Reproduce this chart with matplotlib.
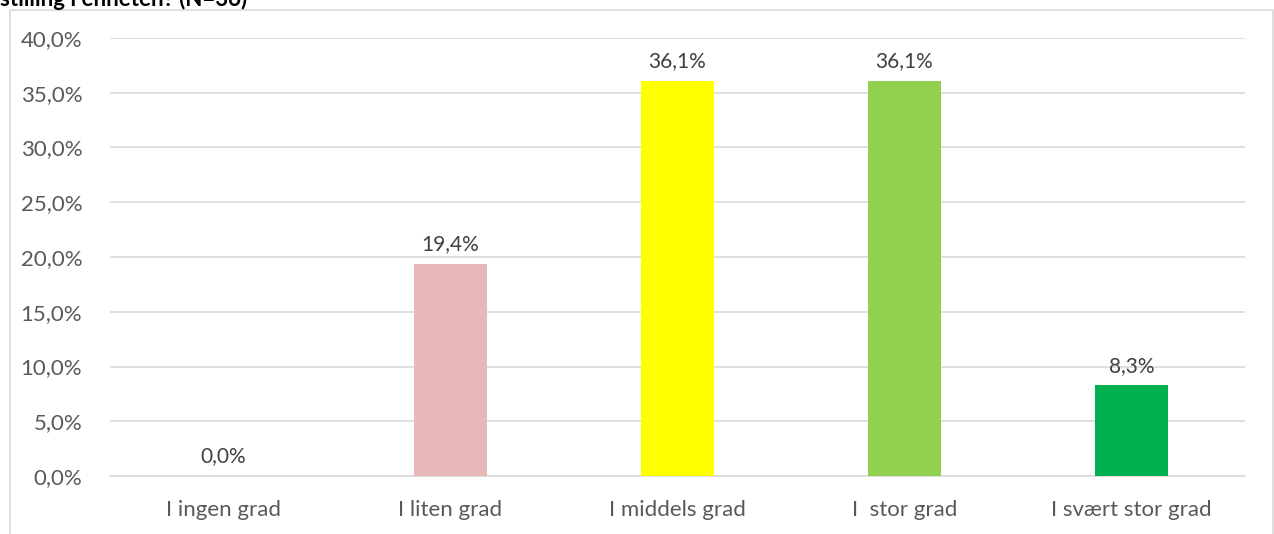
import matplotlib
matplotlib.use("Agg")
import matplotlib.pyplot as plt
from matplotlib.patches import Rectangle
from matplotlib.ticker import FuncFormatter, MultipleLocator

categories = ["I ingen grad", "I liten grad", "I middels grad", "I  stor grad", "I svært stor grad"]
values = [0.0, 19.4, 36.1, 36.1, 8.3]
bar_colors = ["#E6B8B7", "#E6B8B7", "#FFFF00", "#92D050", "#00B050"]
title = "stilling i enheten? (N=36)"

plt.rcParams["font.family"] = ["Lato", "DejaVu Sans"]
text_color = "#595959"
grid_color = "#D9D9D9"

W, H = 1274, 534
fig = plt.figure(figsize=(W / 100, H / 100), dpi=100)

# outer chart frame
fig.patches.append(Rectangle((10 / W, -0.1), (1273 - 10) / W, 1 - 10 / H + 0.1,
                             transform=fig.transFigure, fill=False,
                             edgecolor=grid_color, linewidth=1.2))

# title, mostly above the top edge
fig.text(0.0, 1 - 6 / H, title, fontsize=16, fontweight="bold", color="black",
         ha="left", va="baseline")

ax = fig.add_axes([110 / W, 58 / H, (1245 - 110) / W, (476 - 38) / H])
x = range(len(categories))
bars = ax.bar(x, values, width=0.32, color=bar_colors, zorder=3)

for xi, v in zip(x, values):
    ax.annotate(f"{v:.1f}%".replace(".", ","), (xi, v), xytext=(0, 14),
                textcoords="offset points", ha="center", va="center",
                fontsize=15, color="#404040")

ax.set_xlim(-0.5, len(categories) - 0.5)
ax.set_ylim(0, 40)
ax.yaxis.set_major_locator(MultipleLocator(5))
ax.yaxis.set_major_formatter(FuncFormatter(lambda v, p: f"{v:.1f}%".replace(".", ",")))
ax.set_xticks(list(x))
ax.set_xticklabels(categories)
ax.tick_params(axis="both", length=0, labelsize=16, labelcolor=text_color)
ax.tick_params(axis="x", pad=17)
ax.tick_params(axis="y", pad=20)
ax.grid(axis="y", color=grid_color, linewidth=1.2, zorder=0)
for s in ["top", "right", "left"]:
    ax.spines[s].set_visible(False)
ax.spines["bottom"].set_color(grid_color)
ax.spines["bottom"].set_linewidth(1.2)

fig.savefig("out.png", dpi=100)
